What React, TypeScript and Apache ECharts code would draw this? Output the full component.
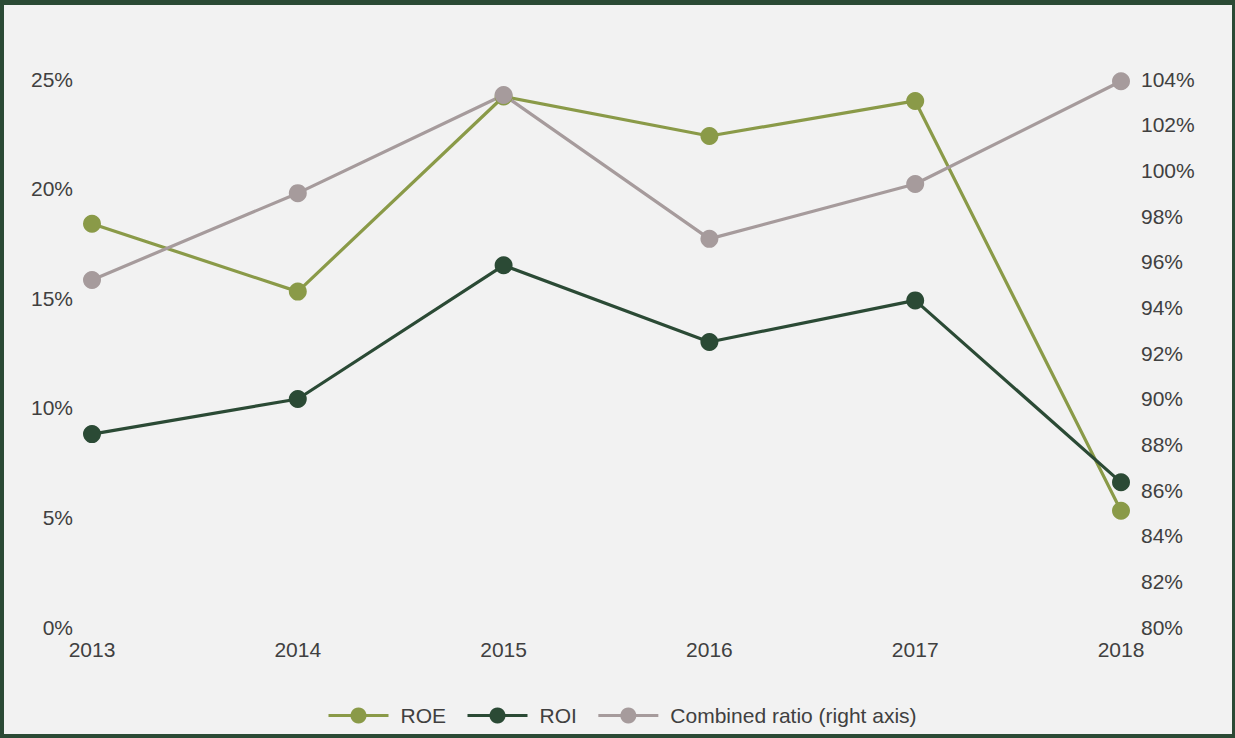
import React, { useEffect, useRef } from "react";
import * as echarts from "echarts";

const years = ["2013", "2014", "2015", "2016", "2017", "2018"];
const roe = [18.4, 15.3, 24.2, 22.4, 24.0, 5.3];
const roi = [8.8, 10.4, 16.5, 13.0, 14.9, 6.6];
const combined = [95.2, 99.0, 103.3, 97.0, 99.4, 103.9];

const C_ROE = "#8a9a48";
const C_ROI = "#2b4a35";
const C_COMB = "#a69b9c";
const TXT = "#404040";

export default function App() {
  const ref = useRef<HTMLDivElement>(null);
  useEffect(() => {
    const chart = echarts.init(ref.current!, null, { renderer: "svg" });
    const font = { fontFamily: "Liberation Sans, Arial, sans-serif", fontSize: 21, color: TXT };
    const mk = (name: string, data: number[], color: string, yAxisIndex: number) => ({
      name,
      type: "line",
      data,
      yAxisIndex,
      symbol: "circle",
      symbolSize: 18,
      lineStyle: { color, width: 3.2 },
      itemStyle: { color },
    });
    chart.setOption({
      animation: false,
      backgroundColor: "#f2f2f2",
      textStyle: { fontFamily: "Liberation Sans, Arial, sans-serif" },
      grid: { left: 92, right: 114, top: 79, bottom: 111, containLabel: false },
      legend: {
        top: 700,
        left: 322,
        itemWidth: 60,
        itemHeight: 20,
        itemGap: 20,
        lineStyle: { width: 3 },
        textStyle: { ...font, padding: [0, 0, 0, 7] },
        data: ["ROE", "ROI", "Combined ratio (right axis)"],
      },
      xAxis: {
        type: "category",
        data: years,
        boundaryGap: false,
        axisLine: { show: false },
        axisTick: { show: false },
        splitLine: { show: false },
        axisLabel: { ...font, margin: 12 },
      },
      yAxis: [
        {
          type: "value",
          min: 0,
          max: 25,
          interval: 5,
          axisLine: { show: false },
          axisTick: { show: false },
          splitLine: { show: false },
          axisLabel: { ...font, margin: 19, formatter: "{value}%" },
        },
        {
          type: "value",
          min: 80,
          max: 104,
          interval: 2,
          position: "right",
          axisLine: { show: false },
          axisTick: { show: false },
          splitLine: { show: false },
          axisLabel: { ...font, margin: 20, formatter: "{value}%" },
        },
      ],
      series: [
        mk("ROE", roe, C_ROE, 0),
        mk("ROI", roi, C_ROI, 0),
        mk("Combined ratio (right axis)", combined, C_COMB, 1),
      ],
    });
    return () => chart.dispose();
  }, []);
  return (
    <div style={{ position: "absolute", left: 0, top: 0, width: 1235, height: 738 }}>
      <div ref={ref} style={{ width: 1235, height: 738 }} />
      <div
        style={{
          position: "absolute",
          left: 0,
          top: 0,
          width: 1235,
          height: 738,
          boxSizing: "border-box",
          borderStyle: "solid",
          borderColor: "#2b4a35",
          borderWidth: "5px 3px 4px 4px",
          pointerEvents: "none",
        }}
      />
    </div>
  );
}
